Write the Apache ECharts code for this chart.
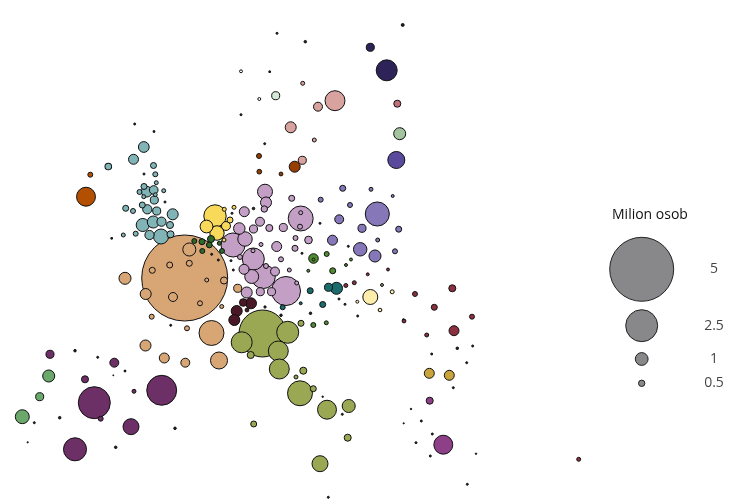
<!DOCTYPE html>
<html><head><meta charset="utf-8">
<script src="https://cdn.jsdelivr.net/npm/echarts@6/dist/echarts.min.js"></script>
<style>html,body{margin:0;padding:0;background:#fff}#c{width:744px;height:504px}</style>
</head><body><div id="c"></div>
<script>
// Each point: [x position, y position, population in millions]
const tan = [[184.7,278,6.72],[211.5,333,1.95],[219,360.5,1.33],[125,278.3,0.94],[145.7,294,0.86],[145.5,345.5,0.86],[164.3,358,0.78],[185.3,362.7,0.7],[237.7,288.3,0.63],[151.7,316.7,0.39],[187,328.3,0.39],[221.7,306.5,0.31],[189.3,249.5,1.02],[169.7,265,0.47],[189.3,263.3,0.47],[152.3,270.3,0.47],[206.7,280,0.31],[224,280.5,0.55],[173,297,0.7],[200,303.3,0.39]];
const pink = [[286,291,2.27],[300.7,218.5,1.95],[233,245,1.88],[263.3,276.5,1.88],[253.3,259,1.72],[265,191.7,1.17],[245,239,1.13],[251.7,276.5,1.09],[266,202.5,0.86],[239.3,228.5,0.9],[246.7,292.5,0.86],[244.3,211.7,0.78],[244,269.3,0.78],[276.7,246.5,0.78],[260,221.7,0.7],[275,271.5,0.7],[253.5,229,0.63],[283.3,227.5,0.63],[260.3,291.7,0.63],[271.5,291.7,0.63],[269.3,228,0.55],[308.5,240,0.6],[264.3,209,0.5],[291.7,198.3,0.47],[295,248.3,0.47],[281,259.3,0.39],[295.5,238,0.39],[266,266,0.39],[240,257,0.39],[253,250.7,0.31],[289.3,270,0.31],[296.7,283,0.31],[300.7,212.7,0.31],[300,226.7,0.39],[261,244.5,0.31]];
const olive = [[262.5,333.5,3.67],[287.7,332.3,1.72],[241.7,342.3,1.64],[278.3,351,1.56],[279.3,369,1.56],[300,393.3,1.95],[327,409.7,1.48],[348.7,406,1.02],[320,463.7,1.25],[250.7,355,0.55],[303.3,370.7,0.55],[347.7,437.7,0.55],[313.3,388.7,0.47],[253.7,424,0.47],[301,323.3,0.47],[296,377,0.31]];
const maroonDark = [[251,303.3,0.86],[236.7,311,0.86],[234.3,320,0.86],[243.3,302.5,0.6],[247,310,0.3]];
const yellow = [[215,216,1.75],[217,233,1.12],[206.5,226.5,1.0],[226,226,0.7],[230,220,0.47],[234,207.3,0.31],[224.3,209.3,0.31],[224,240,0.31]];
const tealUK = [[161,236.5,1.17],[142.7,225,1.02],[153.3,222,0.94],[172.7,214.3,0.86],[143.8,147,0.84],[146.7,191.7,0.84],[133.5,159.3,0.78],[147.3,209.3,0.72],[149.5,235,0.72],[161.5,221.7,0.72],[153.7,190,0.68],[154.3,200,0.63],[156.7,211,0.63],[170,225,0.55],[170.5,234.3,0.55],[108.3,166.5,0.52],[144,186.5,0.47],[142.3,205,0.47],[125.7,208.3,0.47],[153.5,165.5,0.47],[155.3,174.3,0.39],[133,211,0.39],[139.5,192,0.39],[135.7,233.7,0.39],[156.3,182.7,0.31],[163.7,190.7,0.31],[143.7,196.7,0.31],[155.3,194.7,0.3],[123.3,235,0.31]];
const darkGreen = [[211,239,0.55],[202,241.7,0.47],[209.3,245,0.45],[194.3,241,0.39],[202.3,251,0.39],[222,251,0.39],[219.3,243.3,0.31]];
const purple = [[377.3,214,1.88],[360.2,249.3,1.05],[375,256,0.94],[332.5,240.2,0.78],[339.2,219.3,0.7],[362,228.3,0.63],[342.7,188.3,0.47],[398.7,229.2,0.47],[320.7,199.7,0.39],[350,205,0.39],[395,251.3,0.39],[371,189.3,0.31],[377.7,240,0.31],[392.7,196,0.23]];
const plum = [[94.3,402.7,2.5],[161.7,390.3,2.34],[75,449.3,1.8],[131,426.7,1.25],[114.3,362.7,0.7],[50,354.3,0.63],[85,379.3,0.55],[100.7,418.7,0.39],[134,391.3,0.31]];
const greenWest = [[22.3,416.7,1.09],[48.7,376,0.94],[39.7,396.7,0.63]];
const rust = [[86,196.7,1.48],[90.3,174.7,0.39]];
const navy = [[386.7,70.3,1.64],[370.3,47.3,0.63]];
const salmon = [[335,100.7,1.56],[290.7,127.3,0.86],[318,106.7,0.7],[302.3,160.3,0.63],[302.7,83.3,0.31],[314.3,140,0.31]];
const brown = [[294.7,166.7,0.86],[259,156,0.39],[259.3,171.7,0.37],[281,174,0.3]];
const rose = [[397.3,103.7,0.55]];
const sage = [[399.7,133.7,0.94]];
const indigo = [[396.3,160,1.33]];
const mint = [[275.7,95.7,0.63]];
const hollow = [[241,71.3,0.23],[259.3,99,0.23]];
const tealDark = [[336.5,288.3,0.94],[328.5,287.3,0.63],[310.2,290.7,0.47],[322.7,304.5,0.47],[282.7,307.3,0.39],[300.7,303.3,0.23]];
const greenMid = [[313.5,258.5,0.75],[332.7,270.8,0.47],[326.7,254,0.39],[313.3,325,0.39],[326.3,322.8,0.31],[308.3,270.8,0.23],[346,265,0.23],[351,259.5,0.23],[313.5,259.5,0.23]];
const paleYellow = [[370.3,297,1.17],[392.2,291.8,0.31],[380,310,0.28],[357.3,301.7,0.23]];
const crimson = [[454,330.7,0.78],[452.3,288.3,0.55],[434.3,307.3,0.47],[472,316.7,0.39],[415,294,0.39],[354.3,282.7,0.31],[345.8,285.5,0.31],[426.7,335,0.31],[404,321,0.3],[367.7,274.3,0.23],[388,269.5,0.23],[578.7,459.3,0.31]];
const greyGreen = [[382,285,0.23]];
const mustard = [[429.3,373.3,0.78],[449.3,375.3,0.78]];
const magenta = [[443.3,444.7,1.48],[429.7,400.7,0.55]];
const dots = [[402.7,25,0.23],[277,33.3,0.16],[305.3,41.7,0.2],[269.7,71.7,0.14],[241,114.7,0.16],[264.7,143.7,0.16],[134.7,124,0.16],[154,131.5,0.14],[144,174,0.16],[165,202,0.16],[111.7,238.3,0.14],[170.7,325.3,0.16],[253.5,208.5,0.2],[232,213.3,0.16],[211.7,254.3,0.16],[218.3,260,0.16],[231,260.7,0.16],[233.3,270,0.16],[265,307,0.18],[281,315.3,0.2],[310.5,313.3,0.2],[302,253.3,0.16],[348.3,246.3,0.16],[320,223.3,0.16],[339,299,0.16],[345,304.3,0.16],[357.7,316,0.16],[322.7,396.7,0.12],[342.3,414.3,0.16],[328.3,497.3,0.16],[75,350.7,0.2],[97.7,357.3,0.16],[125,371,0.14],[113.3,375.3,0.08],[34.3,422.7,0.16],[27.7,442.3,0.1],[59.7,417.7,0.2],[115.7,447.3,0.2],[175,428.3,0.2],[457.3,348.3,0.2],[472.7,346,0.16],[431.7,354,0.14],[466.7,362.7,0.16],[453.3,387.7,0.16],[411,409,0.12],[421.3,421,0.16],[403.7,423.3,0.1],[432.3,434,0.16],[416,442.7,0.16],[430.3,456,0.16],[476,453.7,0.12],[467.3,484.3,0.16],[403.3,319.3,0.1]];

const legendValues = [5, 2.5, 1, 0.5];
const legendLabels = ['5', '2.5', '1', '0.5'];
const legendTitle = 'Milion osob';

// ---- layout / style ----
const PX_PER_MILLION = 12.8;
const legendX = 641.7, legendLabelX = 714;
const legendYs = [269.3, 325.7, 359, 383.3];

const groups = [
  [tan, '#d8a675'], [pink, '#c39ec5'], [olive, '#9aa853'], [maroonDark, '#4a1726'],
  [yellow, '#f9d95a'], [tealUK, '#80b4b6'], [darkGreen, '#2e6a2a'], [purple, '#8577b8'],
  [plum, '#6c2f66'], [greenWest, '#6aa86b'], [rust, '#b34f00'], [navy, '#2e2359'],
  [salmon, '#d8a29e'], [brown, '#963d00'], [rose, '#c0707a'], [sage, '#a4c4a0'],
  [indigo, '#5a4a9e'], [mint, '#d5e8d5'], [hollow, '#ffffff'], [tealDark, '#1b6b6c'],
  [greenMid, '#4f8b31'], [paleYellow, '#fdedac'], [crimson, '#8b3040'], [greyGreen, '#8a9a7a'],
  [mustard, '#c9a43d'], [magenta, '#8d3f87'], [dots, '#222222']
];

const series = groups.map(([data, color]) => ({
  type: 'scatter',
  data: data,
  symbolSize: v => v[2] * PX_PER_MILLION,
  itemStyle: { color: color, borderColor: '#111', borderWidth: 1, opacity: 1 },
  emphasis: { disabled: true },
  silent: true
}));

series.push({
  type: 'scatter',
  data: legendValues.map((v, i) => [legendX, legendYs[i], v]),
  symbolSize: v => v[2] * PX_PER_MILLION,
  itemStyle: { color: '#88878a', borderColor: '#222', borderWidth: 1, opacity: 1 },
  silent: true
});
series.push({
  type: 'scatter',
  data: legendLabels.map((t, i) => [legendLabelX, legendYs[i], t]),
  symbolSize: 0,
  label: { show: true, position: 'inside', formatter: p => p.data[2], color: '#111', fontSize: 14, fontFamily: 'Open Sans' },
  silent: true
});

const chart = echarts.init(document.getElementById('c'), null, { renderer: 'canvas' });
chart.setOption({
  animation: false,
  backgroundColor: '#ffffff',
  title: { text: legendTitle, left: 607, top: 203, textStyle: { fontSize: 14, fontWeight: 'normal', color: '#111', fontFamily: 'Open Sans' } },
  grid: { left: 0, right: 0, top: 0, bottom: 0 },
  xAxis: { type: 'value', min: 0, max: 744, show: false },
  yAxis: { type: 'value', min: 0, max: 504, inverse: true, show: false },
  series: series
});
</script></body></html>
